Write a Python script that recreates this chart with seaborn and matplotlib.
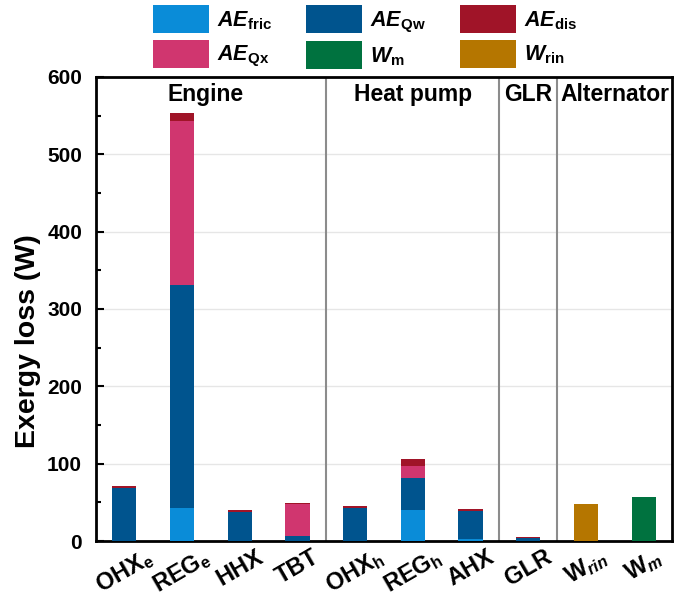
import numpy as np
import pandas as pd
import matplotlib
matplotlib.use("Agg")
import matplotlib.pyplot as plt
import seaborn as sns
from matplotlib.patches import Patch

sns.set_theme(style="white")
plt.rcParams["font.family"] = ["Liberation Sans", "DejaVu Sans"]
plt.rcParams["font.weight"] = "bold"
plt.rcParams["text.color"] = "black"
plt.rcParams["axes.labelcolor"] = "black"
plt.rcParams["xtick.color"] = "black"
plt.rcParams["ytick.color"] = "black"
plt.rcParams["mathtext.fontset"] = "custom"
plt.rcParams["mathtext.rm"] = "Liberation Sans:bold"
plt.rcParams["mathtext.bf"] = "Liberation Sans:bold"
plt.rcParams["mathtext.it"] = "Liberation Sans:italic:bold"
plt.rcParams["mathtext.bfit"] = "Liberation Sans:italic:bold"

# Components and their exergy-loss contributions (W)
components = ["OHXe", "REGe", "HHX", "TBT", "OHXh", "REGh", "AHX", "GLR", "Wrin", "Wm"]
tick_labels = [r"OHX$_\mathbf{e}$", r"REG$_\mathbf{e}$", "HHX", "TBT",
               r"OHX$_\mathbf{h}$", r"REG$_\mathbf{h}$", "AHX", "GLR",
               r"W$_{\mathit{rin}}$", r"W$_{\mathit{m}}$"]
ae_fric = [0, 43, 0, 0, 0, 40, 2, 0, 0, 0]
ae_qw = [68, 288, 38, 6.5, 43, 42, 37, 4, 0, 0]
ae_qx = [0, 212, 0, 41, 0, 15.5, 0, 0, 0, 0]
ae_dis = [3, 10, 2.5, 2, 2, 8, 2.5, 1, 0, 0]
w_rin = [0, 0, 0, 0, 0, 0, 0, 0, 48, 0]
w_m = [0, 0, 0, 0, 0, 0, 0, 0, 0, 57]

groups = ["Engine", "Heat pump", "GLR", "Alternator"]
group_x = [1.4, 5.0, 7.0, 8.5]
separators = [3.5, 6.5, 7.5]

colors = {
    "fric": "#0A8CD8",
    "qw": "#00548E",
    "qx": "#D0366F",
    "dis": "#A01428",
    "wm": "#00723F",
    "wrin": "#B57600",
}

df = pd.DataFrame({"component": components, "fric": ae_fric, "qw": ae_qw,
                   "qx": ae_qx, "dis": ae_dis, "wrin": w_rin, "wm": w_m})
stack_order = ["fric", "qw", "qx", "dis", "wrin", "wm"]
cum = df[stack_order].cumsum(axis=1)

fig = plt.figure(figsize=(6.99, 6.0), dpi=100)
ax = fig.add_axes([0.1373, 0.0983, 0.8241, 0.7734])

# Stacked bars: draw cumulative totals from the top layer down
for key in reversed(stack_order):
    sns.barplot(x=df["component"], y=cum[key], order=components, color=colors[key],
                saturation=1, width=0.42, linewidth=0, ax=ax, zorder=3)

ax.set_xlim(-0.49, 9.49)
ax.set_ylim(0, 600)
ax.set_yticks(np.arange(0, 601, 100))
ax.set_yticks(np.arange(50, 600, 100), minor=True)
ax.yaxis.grid(True, which="major", color="#E6E6E6", linewidth=1, zorder=0)
ax.set_axisbelow(True)
for xs in separators:
    ax.axvline(xs, color="#8C8C8C", linewidth=1.5, zorder=2)

for name, gx in zip(groups, group_x):
    ax.text(gx, 577, name, ha="center", va="center", fontsize=16.5, fontweight="bold")

ax.set_xticks(range(len(components)))
ax.set_xticklabels(tick_labels, rotation=30, ha="center",
                   fontsize=17, fontweight="bold")
ax.tick_params(axis="x", which="both", length=0, pad=3)
ax.tick_params(axis="y", which="major", direction="in", length=6, width=1.5,
               labelsize=15, pad=10, left=True)
ax.tick_params(axis="y", which="minor", direction="in", length=3.5, width=1.5, left=True)
for lab in ax.get_yticklabels():
    lab.set_fontweight("bold")
ax.set_xlabel("")
ax.set_ylabel("Exergy loss (W)", fontsize=20.5, fontweight="bold")
ax.yaxis.set_label_coords(-0.095, 0.43)

for side in ["left", "right", "top", "bottom"]:
    ax.spines[side].set_visible(True)
    ax.spines[side].set_color("black")
    ax.spines[side].set_linewidth(2)

legend_entries = [
    ("fric", r"$\mathbfit{AE}_{\mathbf{fric}}$"),
    ("qx", r"$\mathbfit{AE}_{\mathbf{Qx}}$"),
    ("qw", r"$\mathbfit{AE}_{\mathbf{Qw}}$"),
    ("wm", r"$\mathbfit{W}_{\mathbf{m}}$"),
    ("dis", r"$\mathbfit{AE}_{\mathbf{dis}}$"),
    ("wrin", r"$\mathbfit{W}_{\mathbf{rin}}$"),
]
handles = [Patch(facecolor=colors[k], edgecolor="none") for k, _ in legend_entries]
labels = [lbl for _, lbl in legend_entries]
fig.legend(handles, labels, ncol=3, loc="upper left",
           bbox_to_anchor=(153 / 699, 1 - 5 / 600), borderpad=0, borderaxespad=0,
           frameon=False, fontsize=15.5, handlelength=2.6, handleheight=1.63,
           handletextpad=0.35, columnspacing=1.6, labelspacing=0.3)

fig.savefig("out.png", dpi=100)
